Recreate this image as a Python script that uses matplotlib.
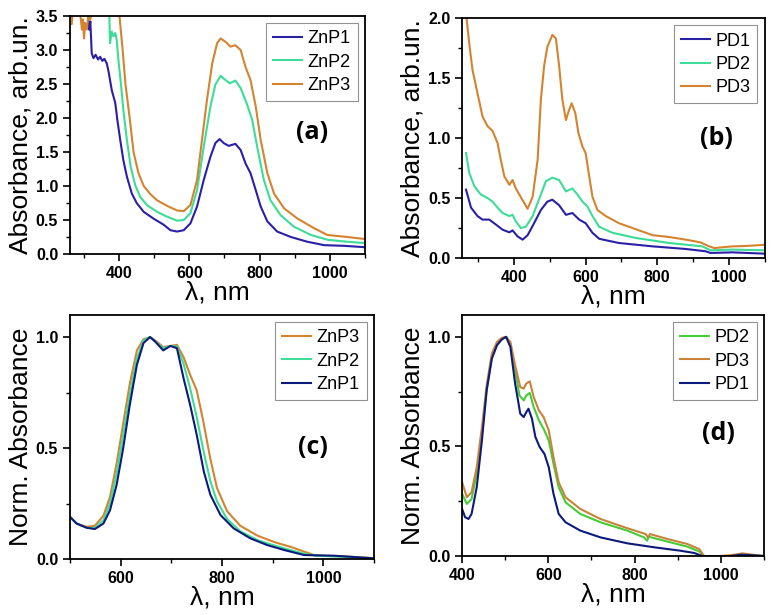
import matplotlib
matplotlib.use("Agg")
import matplotlib.pyplot as plt
from matplotlib.ticker import MultipleLocator, FormatStrFormatter

plt.rcParams['font.family'] = ['Liberation Sans', 'DejaVu Sans']

# (a) absorbance of ZnP films
wl_znp1 = [312, 315, 318, 322, 327, 333, 340, 346, 352, 358, 365, 370, 379, 389, 395, 403, 412, 422,
           436, 450, 470, 498, 527, 546, 565, 584, 603, 622, 641, 660, 674, 686, 698, 712, 731, 746,
           760, 774, 789, 803, 822, 850, 889, 936, 984, 1041, 1100]
abs_znp1 = [3.45, 3.30, 3.42, 2.95, 2.88, 2.93, 2.86, 2.90, 2.84, 2.87, 2.80, 2.68, 2.41, 2.22, 1.97,
            1.68, 1.38, 1.14, 0.89, 0.75, 0.62, 0.52, 0.43, 0.35, 0.33, 0.35, 0.45, 0.70, 1.09, 1.43,
            1.63, 1.69, 1.63, 1.59, 1.62, 1.53, 1.33, 1.19, 0.94, 0.70, 0.48, 0.33, 0.25, 0.18, 0.13,
            0.12, 0.10]
wl_znp2 = [370, 372, 374, 379, 384, 389, 393, 398, 405, 412, 422, 433, 446, 460, 479, 508, 536, 565,
           584, 603, 622, 641, 660, 674, 689, 700, 715, 731, 746, 765, 779, 793, 812, 831, 860, 898,
           946, 993, 1050, 1100]
abs_znp2 = [3.7, 3.54, 3.10, 3.27, 3.20, 3.25, 3.15, 2.85, 2.51, 2.12, 1.68, 1.28, 1.01, 0.84, 0.72,
            0.62, 0.55, 0.49, 0.50, 0.60, 0.94, 1.58, 2.17, 2.49, 2.62, 2.57, 2.51, 2.55, 2.44, 2.19,
            1.97, 1.58, 1.09, 0.79, 0.57, 0.40, 0.28, 0.21, 0.18, 0.16]
wl_znp3 = [262, 265, 268, 290, 294, 297, 300, 303, 308, 312, 318, 322, 360, 401, 410, 418, 430, 441,
           455, 470, 489, 508, 536, 565, 584, 603, 622, 636, 650, 665, 679, 689, 703, 717, 731, 746,
           760, 774, 789, 803, 822, 841, 870, 908, 955, 993, 1050, 1100]
abs_znp3 = [3.6, 3.38, 3.6, 3.5, 3.3, 3.45, 3.17, 3.4, 3.3, 3.5, 3.45, 3.6, 3.9, 3.50, 3.00, 2.50,
            2.00, 1.50, 1.19, 1.00, 0.88, 0.79, 0.71, 0.64, 0.63, 0.72, 1.09, 1.68, 2.26, 2.80, 3.10,
            3.17, 3.12, 3.05, 3.07, 3.00, 2.75, 2.56, 2.17, 1.68, 1.19, 0.89, 0.67, 0.52, 0.38, 0.28,
            0.25, 0.22]

# (b) absorbance of PD films
wl_pd1 = [266, 280, 298, 312, 331, 349, 368, 387, 396, 410, 424, 438, 456, 475, 493, 507, 526, 545,
          563, 582, 600, 619, 638, 693, 787, 880, 935, 949, 1010, 1100]
abs_pd1 = [0.57, 0.42, 0.35, 0.32, 0.32, 0.28, 0.236, 0.214, 0.23, 0.18, 0.153, 0.19, 0.29, 0.40,
           0.47, 0.486, 0.44, 0.36, 0.375, 0.32, 0.29, 0.21, 0.16, 0.125, 0.097, 0.075, 0.056,
           0.042, 0.047, 0.036]
wl_pd2 = [266, 275, 289, 307, 326, 340, 354, 368, 387, 396, 405, 419, 433, 452, 470, 489, 507, 526,
          545, 563, 577, 591, 605, 619, 638, 675, 740, 833, 926, 949, 1010, 1100]
abs_pd2 = [0.875, 0.71, 0.60, 0.53, 0.50, 0.47, 0.42, 0.375, 0.35, 0.36, 0.305, 0.25, 0.26, 0.35,
           0.49, 0.64, 0.67, 0.65, 0.555, 0.58, 0.53, 0.47, 0.43, 0.35, 0.26, 0.21, 0.167, 0.125,
           0.097, 0.064, 0.07, 0.064]
wl_pd3 = [266, 275, 284, 298, 312, 326, 340, 354, 363, 373, 387, 396, 405, 438, 452, 466, 475, 484,
          493, 507, 517, 526, 535, 545, 552, 561, 571, 580, 591, 600, 610, 619, 633, 656, 693, 740,
          787, 833, 880, 921, 945, 959, 1010, 1047, 1100]
abs_pd3 = [2.04, 1.79, 1.57, 1.375, 1.18, 1.10, 1.06, 0.96, 0.82, 0.68, 0.61, 0.65, 0.58, 0.41,
           0.51, 0.82, 1.32, 1.60, 1.76, 1.86, 1.83, 1.60, 1.32, 1.15, 1.22, 1.29, 1.21, 1.04, 0.93,
           0.875, 0.68, 0.51, 0.40, 0.35, 0.29, 0.24, 0.19, 0.175, 0.153, 0.13, 0.097, 0.083, 0.097,
           0.10, 0.11]

# (c) normalised ZnP
wl_c1 = [500, 513, 533, 549, 566, 579, 592, 605, 618, 632, 645, 658, 668, 684, 698, 711, 724, 737,
         750, 764, 777, 797, 823, 856, 889, 922, 948, 962, 1021, 1061, 1100]
norm_c1 = [0.19, 0.16, 0.141, 0.135, 0.16, 0.22, 0.334, 0.50, 0.695, 0.875, 0.973, 1.0, 0.98, 0.94,
           0.96, 0.95, 0.815, 0.695, 0.56, 0.394, 0.289, 0.198, 0.138, 0.093, 0.063, 0.041, 0.026,
           0.018, 0.015, 0.009, 0.003]
wl_c2 = [500, 513, 533, 549, 566, 579, 592, 605, 618, 632, 645, 658, 668, 684, 698, 711, 724, 737,
         750, 764, 777, 790, 810, 836, 870, 905, 935, 960, 985, 1040, 1100]
norm_c2 = [0.19, 0.16, 0.14, 0.14, 0.175, 0.25, 0.385, 0.56, 0.74, 0.905, 0.985, 1.0, 0.98, 0.95,
           0.96, 0.958, 0.88, 0.77, 0.64, 0.48, 0.35, 0.26, 0.18, 0.125, 0.085, 0.06, 0.04, 0.025,
           0.015, 0.01, 0.003]
wl_c3 = [500, 513, 533, 549, 566, 579, 592, 605, 618, 632, 645, 658, 668, 684, 698, 711, 724, 737,
         750, 763, 777, 790, 810, 836, 870, 905, 935, 960, 985, 1040, 1100]
norm_c3 = [0.19, 0.16, 0.145, 0.15, 0.195, 0.28, 0.43, 0.61, 0.79, 0.94, 0.99, 1.0, 0.985, 0.955,
           0.96, 0.965, 0.91, 0.83, 0.76, 0.62, 0.45, 0.32, 0.215, 0.15, 0.105, 0.075, 0.055, 0.035,
           0.015, 0.012, 0.004]

# (d) normalised PD
wl_d1 = [400, 407, 415, 422, 434, 446, 457, 469, 481, 492, 502, 512, 523, 535, 543, 549, 554, 562,
         570, 580, 591, 601, 612, 624, 640, 674, 721, 783, 845, 907, 938, 957, 992, 1023, 1047,
         1077, 1100]
norm_d1 = [0.215, 0.177, 0.169, 0.192, 0.314, 0.527, 0.756, 0.90, 0.962, 0.988, 1.0, 0.954, 0.787,
           0.649, 0.634, 0.657, 0.672, 0.627, 0.543, 0.497, 0.466, 0.405, 0.284, 0.192, 0.154,
           0.116, 0.085, 0.058, 0.040, 0.024, 0.014, 0.0, -0.003, 0.0, 0.006, 0.003, 0.0]
wl_d2 = [400, 411, 422, 434, 446, 457, 469, 481, 492, 502, 512, 523, 533, 543, 549, 557, 566, 578,
         589, 601, 612, 624, 640, 674, 721, 783, 822, 829, 833, 876, 922, 950, 961, 992, 1023, 1047,
         1077, 1100]
norm_d2 = [0.284, 0.238, 0.26, 0.375, 0.558, 0.756, 0.909, 0.97, 0.992, 1.0, 0.97, 0.848, 0.733,
           0.71, 0.733, 0.744, 0.68, 0.619, 0.581, 0.527, 0.421, 0.314, 0.245, 0.192, 0.154, 0.116,
           0.085, 0.07, 0.088, 0.066, 0.043, 0.021, 0.0, -0.003, 0.0, 0.006, 0.003, 0.0]
wl_d3 = [400, 411, 422, 434, 446, 457, 469, 481, 492, 502, 512, 523, 535, 543, 549, 557, 566, 578,
         589, 601, 612, 624, 640, 674, 721, 783, 826, 831, 836, 876, 922, 950, 961, 1000, 1031, 1050,
         1074, 1100]
norm_d3 = [0.337, 0.268, 0.291, 0.405, 0.588, 0.779, 0.924, 0.977, 0.995, 1.0, 0.977, 0.87, 0.771,
           0.764, 0.787, 0.797, 0.726, 0.665, 0.634, 0.573, 0.451, 0.337, 0.268, 0.215, 0.169,
           0.127, 0.10, 0.085, 0.10, 0.078, 0.055, 0.032, 0.0, 0.0, 0.006, 0.012, 0.006, 0.0]

indigo = '#2a20a6'
mint = '#3ddc97'
orange = '#d4832e'
navy = '#0c1a7c'
green = '#45cc36'
brown = '#c8823a'

fig = plt.figure(figsize=(7.74, 6.15), dpi=100)
ax_a = fig.add_axes([0.0904, 0.587, 0.3811, 0.387])
ax_b = fig.add_axes([0.597, 0.5805, 0.391, 0.390])
ax_c = fig.add_axes([0.0904, 0.091, 0.393, 0.397])
ax_d = fig.add_axes([0.597, 0.0959, 0.390, 0.392])

lw = 1.5
ax_a.plot(wl_znp1, abs_znp1, color=indigo, lw=lw, label='ZnP1')
ax_a.plot(wl_znp2, abs_znp2, color=mint, lw=lw, label='ZnP2')
ax_a.plot(wl_znp3, abs_znp3, color=orange, lw=lw, label='ZnP3')

ax_b.plot(wl_pd1, abs_pd1, color=indigo, lw=lw, label='PD1')
ax_b.plot(wl_pd2, abs_pd2, color=mint, lw=lw, label='PD2')
ax_b.plot(wl_pd3, abs_pd3, color=orange, lw=lw, label='PD3')

ax_c.plot(wl_c3, norm_c3, color=orange, lw=lw, label='ZnP3')
ax_c.plot(wl_c2, norm_c2, color=mint, lw=lw, label='ZnP2')
ax_c.plot(wl_c1, norm_c1, color=navy, lw=lw, label='ZnP1')

ax_d.plot(wl_d2, norm_d2, color=green, lw=lw, label='PD2')
ax_d.plot(wl_d3, norm_d3, color=brown, lw=lw, label='PD3')
ax_d.plot(wl_d1, norm_d1, color=navy, lw=lw, label='PD1')

ax_a.set_xlim(260, 1100)
ax_a.set_ylim(0, 3.5)
ax_b.set_xlim(255, 1100)
ax_b.set_ylim(0, 2.0)
ax_c.set_xlim(500, 1100)
ax_c.set_ylim(0, 1.1)
ax_d.set_xlim(400, 1100)
ax_d.set_ylim(0, 1.1)

tags = ['(a)', '(b)', '(c)', '(d)']
tag_pos = [(0.82, 0.51), (0.84, 0.50), (0.80, 0.455), (0.85, 0.51)]
for ax, tag, pos in zip([ax_a, ax_b, ax_c, ax_d], tags, tag_pos):
    ax.xaxis.set_major_locator(MultipleLocator(200))
    ax.xaxis.set_minor_locator(MultipleLocator(100))
    ax.yaxis.set_major_locator(MultipleLocator(0.5))
    ax.yaxis.set_minor_locator(MultipleLocator(0.25))
    ax.yaxis.set_major_formatter(FormatStrFormatter('%.1f'))
    ax.tick_params(which='major', direction='out', length=5, width=1.2, labelsize=11.5)
    ax.tick_params(which='minor', direction='out', length=3, width=1.0)
    for lab in ax.get_xticklabels() + ax.get_yticklabels():
        lab.set_fontweight('bold')
    for sp in ax.spines.values():
        sp.set_linewidth(1.3)
    ax.set_xlabel('λ, nm', fontsize=19, labelpad=0)
    ax.text(pos[0], pos[1], tag, transform=ax.transAxes, ha='center', va='center',
            fontsize=18, fontweight='bold', family='Open Sans')
    leg = ax.legend(loc='upper right', fontsize=13, frameon=True, fancybox=False,
                    handlelength=1.6, handletextpad=0.3, labelspacing=0.35,
                    borderpad=0.4, borderaxespad=0.4)
    leg.get_frame().set_edgecolor('#777777')
    leg.get_frame().set_linewidth(0.8)

ax_a.set_ylabel('Absorbance, arb.un.', fontsize=19, labelpad=2)
ax_b.set_ylabel('Absorbance, arb.un.', fontsize=19, labelpad=2)
ax_c.set_ylabel('Norm. Absorbance', fontsize=19, labelpad=2)
ax_d.set_ylabel('Norm. Absorbance', fontsize=19, labelpad=2)

fig.savefig('out.png', dpi=100)
